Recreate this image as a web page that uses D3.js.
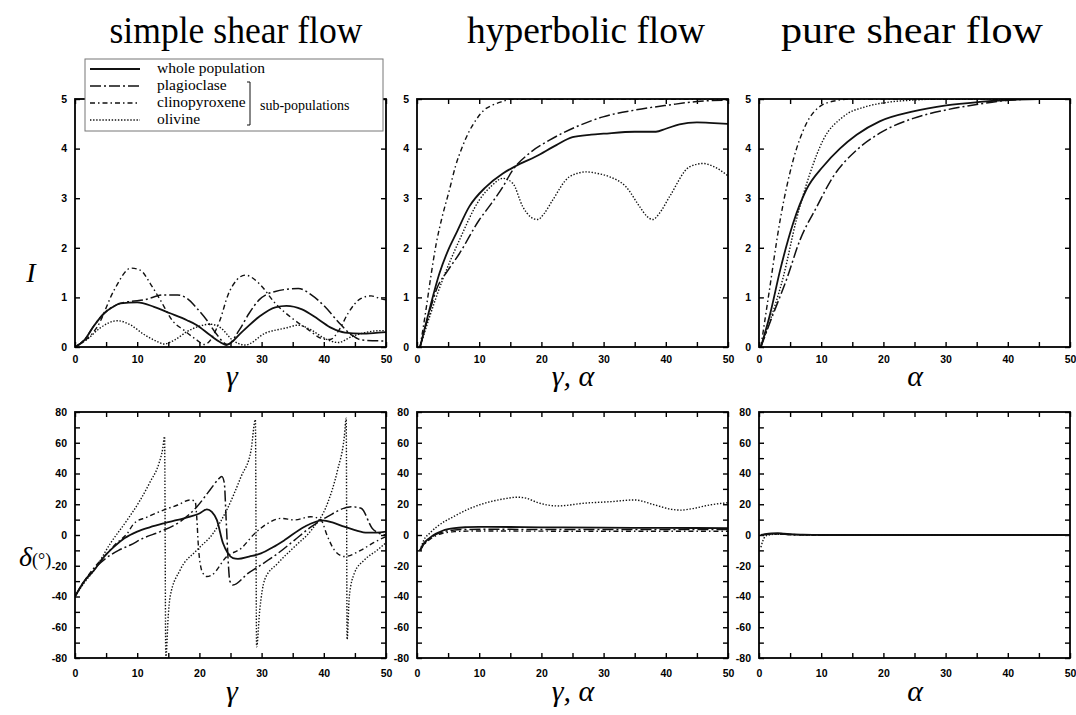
<!DOCTYPE html>
<html>
<head>
<meta charset="utf-8">
<script src="https://cdn.jsdelivr.net/npm/d3@7"></script>
<style>
body { margin: 0; background: #fff; }
.ax text { font-family: "Liberation Sans", Arial, sans-serif; font-weight: bold; font-size: 10.5px; fill: #000; }
.ax line { stroke: #000; stroke-width: 1.4; }
.ax path { display: none; }
</style>
</head>
<body>
<svg id="chart" width="1076" height="715"></svg>
<script>
// column titles and axis labels
var titles = ["simple shear flow", "hyperbolic flow", "pure shear flow"];
var xLabels = ["\u03b3", "\u03b3, \u03b1", "\u03b1"];
var seriesNames = ["whole population", "plagioclase", "clinopyroxene", "olivine"];

var xTicksMinor = d3.range(0, 51, 5);
var xTicksMajor = d3.range(0, 51, 10);
var iTicks = [0, 1, 2, 3, 4, 5];
var dTicksMinor = d3.range(-80, 81, 10);
var dTicksMajor = d3.range(-80, 81, 20);

// --- orientation index I, simple shear ---
var simpleI_whole = [[0,0],[1.5,0.14],[3,0.42],[4.7,0.68],[6,0.8],[7.3,0.88],[10,0.9],[12.7,0.81],[15.3,0.68],[18,0.54],[19.6,0.44],[21.7,0.24],[23.3,0.1],[24.3,0.04],[26.9,0.31],[29.6,0.61],[32.2,0.8],[34,0.83],[36.5,0.76],[39.1,0.56],[41.3,0.38],[43.4,0.29],[46,0.27],[48,0.28],[50,0.3]];
var simpleI_plag = [[0,0],[1.5,0.14],[3,0.42],[4.7,0.68],[7.3,0.88],[9,0.92],[11.1,0.95],[14.3,1.05],[16.5,1.05],[18,0.98],[19.6,0.78],[21.2,0.54],[22.8,0.25],[24.5,0.05],[26.4,0.34],[28,0.68],[29.6,0.95],[32.2,1.12],[35.9,1.18],[38,1.05],[40.2,0.81],[42.3,0.51],[44.5,0.24],[46.1,0.14],[50,0.12]];
var simpleI_cpx = [[0,0],[1.5,0.12],[3.6,0.41],[6.3,1.15],[9,1.59],[10.5,1.55],[12.1,1.28],[13.7,0.95],[15.8,0.51],[17.5,0.34],[19.6,0.14],[20.8,0.05],[23.3,0.54],[24.6,1.05],[26,1.35],[27.4,1.45],[29.6,1.28],[32.2,0.88],[34.9,0.58],[37.5,0.35],[39.7,0.17],[41,0.15],[42.5,0.35],[43.9,0.68],[46,0.98],[47.6,1.03],[49.2,0.97],[50,0.95]];
var simpleI_oliv = [[0,0],[2,0.16],[4,0.38],[6.8,0.53],[9,0.44],[11,0.26],[13.2,0.11],[14.3,0.06],[16,0.14],[18,0.31],[20,0.42],[21.7,0.46],[23.5,0.38],[25.3,0.14],[27.4,0.04],[30.6,0.28],[33.8,0.38],[35.9,0.44],[38,0.34],[40.2,0.17],[42.3,0.09],[44.5,0.21],[46.6,0.29],[49.2,0.33],[50,0.33]];

// --- orientation index I, hyperbolic ---
var hypI_whole = [[0.5,0],[2,0.75],[3.6,1.48],[5,1.95],[6.3,2.29],[8.4,2.83],[11.1,3.23],[13.8,3.5],[15.9,3.65],[19.1,3.84],[22.4,4.07],[25,4.23],[28,4.28],[30,4.3],[35,4.34],[38.4,4.34],[40,4.4],[42.2,4.49],[45,4.53],[47,4.52],[50,4.5]];
var hypI_plag = [[0.5,0],[2,0.7],[3.1,1.15],[5,1.55],[6.8,1.88],[10,2.56],[12,2.9],[13.8,3.23],[15.4,3.57],[18,3.9],[21.3,4.17],[25.6,4.44],[29.9,4.64],[35.2,4.78],[40.6,4.88],[45,4.95],[50,4.98]];
var hypI_cpx = [[0.5,0],[1.5,0.8],[2.2,1.4],[3.1,2.09],[4,2.6],[5.2,3.16],[6.2,3.65],[7.3,4.04],[8.4,4.35],[9.5,4.58],[10.8,4.78],[12.2,4.88],[14,4.96],[15,5],[20,5],[30,5],[40,5],[50,5]];
var hypI_oliv = [[0.5,0],[2,0.6],[4.1,1.35],[6.8,2.15],[10,2.96],[12,3.25],[13.8,3.4],[15.4,3.3],[17,2.83],[18.3,2.62],[19.4,2.57],[20.5,2.7],[21.8,2.96],[24.5,3.43],[27.2,3.53],[29,3.5],[31,3.43],[33.6,3.23],[35.8,2.83],[37,2.63],[37.9,2.57],[39,2.7],[40.6,3.03],[43.8,3.63],[46,3.7],[48,3.62],[50,3.45]];

// --- orientation index I, pure shear ---
var pureI_whole = [[0.3,0],[1.8,0.67],[3.4,1.55],[5.5,2.5],[7.6,3.17],[10.3,3.64],[13,4.0],[15.7,4.28],[19.4,4.55],[24.8,4.75],[30.1,4.87],[35.5,4.94],[40,4.98],[45,5],[50,5]];
var pureI_plag = [[0.3,0],[2.3,0.67],[4.4,1.35],[6.6,2.16],[9.3,2.83],[11.9,3.43],[15.7,3.97],[19.4,4.31],[24.8,4.61],[30.1,4.78],[35.5,4.9],[39.7,4.97],[45,5],[50,5]];
var pureI_cpx = [[0.3,0],[1.5,1.0],[3.4,2.56],[5.5,3.77],[7.6,4.5],[9.8,4.85],[12.5,4.97],[15,5],[30,5],[50,5]];
var pureI_oliv = [[0.3,0],[1.8,0.54],[3.9,1.41],[6,2.56],[8.2,3.5],[10.3,4.17],[13.5,4.64],[17.3,4.85],[20.5,4.93],[25,4.98],[30,5],[50,5]];

// --- mean angle delta, simple shear ---
var simpleD_whole = [[0,-40],[1.5,-30],[3.1,-22.8],[4.5,-15],[6.3,-7.6],[8,-2],[10,2.2],[12,5],[14.3,7.6],[16.5,9.8],[18.5,11.9],[20,14],[21.2,16.7],[22,15],[22.8,9.8],[23.8,-5.4],[24.6,-12],[25.4,-15],[26.2,-15.5],[28,-14],[29.9,-12],[31.8,-8],[33.7,-3.3],[36.9,5.4],[39.8,9.5],[41.5,8],[43.3,5.4],[45,3.2],[47,1.5],[48.5,1.5],[50,2.2]];
var simpleD_plag = [[0,-40],[1.5,-30],[3.1,-22],[5,-15],[7,-10],[8.9,-6.5],[11,-2],[13.7,2.2],[16.9,8.7],[19.6,18.4],[21.7,29.3],[23,36],[23.6,38],[24,34],[24.3,10],[24.6,-15],[24.9,-30],[25.4,-32.5],[27.8,-25],[29.9,-19.5],[32.6,-12],[35.3,-3.3],[38,5.4],[40.6,12],[44.4,18.4],[46,17.4],[47.8,4.3],[49,1],[50,0]];
var simpleD_cpx = [[0,-40],[1.5,-30],[3,-21.6],[4.7,-14],[6.5,-6],[8.4,1],[9.5,7.6],[11.5,11.5],[14.3,16.3],[16.5,19.5],[18.5,22.8],[19.3,22],[19.6,10],[19.8,-5],[20.1,-18],[20.6,-25],[21.2,-27],[22,-26],[24.4,-14],[26.7,-8.7],[28.9,1],[31,7.6],[33.1,10.8],[35.3,9.8],[37.9,11.9],[39.5,10],[40.6,-1],[41.7,-9.8],[43.3,-14],[46,-9.8],[48,-5],[50,-1]];
var simpleD_oliv = [[0,-40],[1.5,-31],[3.1,-22.8],[5.7,-5.4],[8.4,9.8],[10.5,22.8],[12.1,34.7],[13.5,46.6],[14.1,56],[14.4,64],[14.6,-80],[15,-52],[15.3,-40],[16.9,-22.8],[19.6,-9.8],[22.2,1],[24.4,16.3],[26.7,38],[28.3,55],[29,75],[29.2,-72.7],[29.7,-49],[30.5,-29],[32.6,-18.4],[35.3,-7.6],[38,3.2],[40.6,20.6],[42.2,42],[43.3,64],[43.6,76],[43.75,-68],[44.1,-40],[44.9,-25],[46.5,-16.3],[48.6,-9.8],[50,-5]];

// --- mean angle delta, hyperbolic ---
var hypD_whole = [[0.5,-10],[1,-6],[2,-2],[3,0.8],[4,2.6],[5,3.8],[6,4.5],[8,5.1],[10,5.3],[15,5.2],[20,5],[30,4.8],[40,4.6],[50,4.5]];
var hypD_plag = [[0.5,-10],[1,-6.5],[2,-2.5],[3,0.3],[4,1.8],[5,2.8],[6,3.3],[8,3.6],[10,3.7],[20,3.6],[30,3.5],[40,3.5],[50,3.5]];
var hypD_cpx = [[0.5,-10],[1,-7],[2,-3],[3,-0.5],[4,1],[5,1.8],[6,2.2],[8,2.5],[10,2.6],[20,2.5],[30,2.4],[40,2.4],[50,2.4]];
var hypD_oliv = [[0.5,-10],[1.1,-3.3],[2,1],[3.2,5.4],[5.9,12],[8.6,17.4],[11.8,21.7],[14,23.5],[16.1,24.6],[17.5,24],[19.4,21.1],[22.6,18.9],[26.9,20.7],[31.2,21.7],[34.9,22.8],[38.2,19.6],[40.9,16.7],[42.4,16.2],[44.1,17],[47,19.5],[50,21]];

// --- mean angle delta, pure shear ---
var pureD_whole = [[0.3,0],[1,0.5],[2,1],[3,1.2],[4,0.8],[5,0.5],[7,0.2],[10,0],[20,0],[30,0],[40,0],[50,0]];
var pureD_plag = [[0.3,0],[1,0.3],[2,0.6],[4,0.5],[6,0.2],[10,0],[20,0],[30,0],[40,0],[50,0]];
var pureD_cpx = [[0.3,0],[1,0.4],[3,0.6],[6,0.1],[10,0],[20,0],[30,0],[40,0],[50,0]];
var pureD_oliv = [[0.3,-8],[0.6,-4],[1,-1],[1.5,0],[3,0.5],[6,0.2],[10,0],[20,0],[30,0],[40,0],[50,0]];

// line styles for the four series
var strokeW = [1.8, 1.5, 1.4, 1.4];
var dashes = [null, "11,3,2,3", "5,3,1.5,3", "1.4,1.7"];

var svg = d3.select("#chart");
var colX = [75, 417, 759];
var pw = 311;
var rowY = [99, 412];
var ph = [248, 246];

var x = d3.scaleLinear().domain([0, 50]).range([0, pw]);
var yI = d3.scaleLinear().domain([0, 5]).range([ph[0], 0]);
var yD = d3.scaleLinear().domain([-80, 80]).range([ph[1], 0]);

var panels = [
  {col: 0, row: 0, sets: [simpleI_whole, simpleI_plag, simpleI_cpx, simpleI_oliv]},
  {col: 1, row: 0, sets: [hypI_whole, hypI_plag, hypI_cpx, hypI_oliv]},
  {col: 2, row: 0, sets: [pureI_whole, pureI_plag, pureI_cpx, pureI_oliv]},
  {col: 0, row: 1, sets: [simpleD_whole, simpleD_plag, simpleD_cpx, simpleD_oliv]},
  {col: 1, row: 1, sets: [hypD_whole, hypD_plag, hypD_cpx, hypD_oliv]},
  {col: 2, row: 1, sets: [pureD_whole, pureD_plag, pureD_cpx, pureD_oliv]}
];

panels.forEach(function(p, i) {
  var y = p.row === 0 ? yI : yD;
  var h = ph[p.row];
  var g = svg.append("g").attr("transform", `translate(${colX[p.col]}, ${rowY[p.row]})`);

  g.append("clipPath").attr("id", "clip" + i)
    .append("rect").attr("width", pw).attr("height", h);

  var yMinor = p.row === 0 ? iTicks : dTicksMinor;
  var yMajor = p.row === 0 ? iTicks : dTicksMajor;

  g.append("g").attr("class", "ax").attr("transform", `translate(0, ${h})`)
    .call(d3.axisBottom(x).tickValues(xTicksMinor).tickSize(-5)
      .tickPadding(p.row === 0 ? 9 : 12)
      .tickFormat(d => xTicksMajor.indexOf(d) >= 0 ? d : ""));
  g.append("g").attr("class", "ax")
    .call(d3.axisTop(x).tickValues(xTicksMinor).tickSize(-5).tickFormat(""));
  g.append("g").attr("class", "ax")
    .call(d3.axisLeft(y).tickValues(yMinor).tickSize(-5).tickPadding(8)
      .tickFormat(d => yMajor.indexOf(d) >= 0 ? d : ""));
  g.append("g").attr("class", "ax").attr("transform", `translate(${pw}, 0)`)
    .call(d3.axisRight(y).tickValues(yMinor).tickSize(-5).tickFormat(""));

  var line = d3.line()
    .x(d => x(d[0]))
    .y(d => y(d[1]))
    .curve(d3.curveMonotoneX);

  var lines = g.append("g").attr("clip-path", `url(#clip${i})`);
  p.sets.forEach(function(s, k) {
    lines.append("path")
      .datum(s)
      .attr("d", line)
      .attr("fill", "none")
      .attr("stroke", "#111")
      .attr("stroke-width", strokeW[k])
      .attr("stroke-dasharray", dashes[k]);
  });

  g.append("rect")
    .attr("width", pw).attr("height", h)
    .attr("fill", "none").attr("stroke", "#000").attr("stroke-width", 1.8);
});

// column titles
var titleX = [236, 586, 912];
var titleLen = [253, 238, 262];
titles.forEach(function(t, i) {
  svg.append("text")
    .attr("x", titleX[i]).attr("y", 43)
    .attr("text-anchor", "middle")
    .attr("textLength", titleLen[i])
    .attr("lengthAdjust", "spacingAndGlyphs")
    .style("font-family", "'Liberation Serif', 'Times New Roman', serif")
    .style("font-size", "37px")
    .text(t);
});

// x axis labels under each panel
var xLabelX = [232, 573, 915];
[386, 701].forEach(function(by) {
  xLabels.forEach(function(t, i) {
    svg.append("text")
      .attr("x", xLabelX[i]).attr("y", by)
      .attr("text-anchor", "middle")
      .style("font-family", "'Liberation Serif', 'Times New Roman', serif")
      .style("font-style", "italic")
      .style("font-size", "30px")
      .text(t);
  });
});

// y axis labels
svg.append("text")
  .attr("x", 31).attr("y", 282)
  .attr("text-anchor", "middle")
  .style("font-family", "'Liberation Serif', 'Times New Roman', serif")
  .style("font-style", "italic")
  .style("font-size", "28px")
  .text("I");

var dLab = svg.append("text")
  .attr("x", 19).attr("y", 566)
  .style("font-family", "'Liberation Serif', 'Times New Roman', serif");
dLab.append("tspan").style("font-style", "italic").style("font-size", "28px").text("\u03b4");
dLab.append("tspan").style("font-size", "18px").text("(\u00b0)");

// legend box
var leg = svg.append("g").attr("transform", "translate(85, 59)");
leg.append("rect")
  .attr("width", 298).attr("height", 72)
  .attr("fill", "#fff").attr("stroke", "#777").attr("stroke-width", 1);

seriesNames.forEach(function(n, k) {
  var by = 14 + k * 17;
  leg.append("line")
    .attr("x1", 5).attr("x2", 55)
    .attr("y1", by - 4).attr("y2", by - 4)
    .attr("stroke", "#111")
    .attr("stroke-width", strokeW[k])
    .attr("stroke-dasharray", dashes[k]);
  leg.append("text")
    .attr("x", 72).attr("y", by)
    .style("font-family", "'Liberation Serif', 'Times New Roman', serif")
    .style("font-size", "15.5px")
    .text(n);
});

leg.append("path")
  .attr("d", "M162,23 H165 V66 H162")
  .attr("fill", "none").attr("stroke", "#111").attr("stroke-width", 1);
leg.append("text")
  .attr("x", 175).attr("y", 51)
  .style("font-family", "'Liberation Serif', 'Times New Roman', serif")
  .style("font-size", "14px")
  .text("sub-populations");
</script>
</body>
</html>
